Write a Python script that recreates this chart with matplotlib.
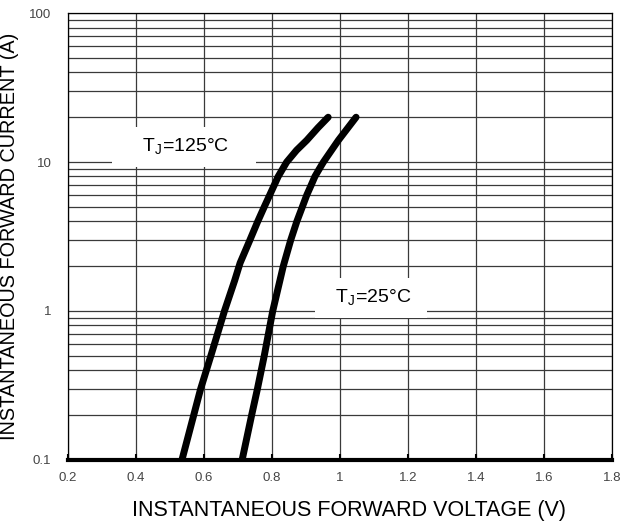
import matplotlib
matplotlib.use("Agg")
import matplotlib.pyplot as plt
from matplotlib.ticker import LogLocator, FixedLocator, NullFormatter

plt.rcParams['font.family'] = ['Liberation Sans', 'DejaVu Sans']

# forward voltage (V) vs forward current (A)
v_125 = [0.535, 0.59, 0.62, 0.66, 0.69, 0.706, 0.735, 0.758, 0.777, 0.793,
         0.818, 0.843, 0.872, 0.902, 0.935, 0.965]
i_125 = [0.1, 0.3, 0.5, 1, 1.6, 2.1, 3, 4, 5, 6, 8, 10, 12, 14, 17, 20]
v_25 = [0.712, 0.74, 0.757, 0.777, 0.802, 0.833, 0.855, 0.873, 0.889, 0.902,
        0.915, 0.926, 0.939, 0.951, 0.995, 1.047]
i_25 = [0.1, 0.2, 0.3, 0.5, 1, 2, 3, 4, 5, 6, 7, 8, 9, 10, 14, 20]

x_ticks = [0.2, 0.4, 0.6, 0.8, 1.0, 1.2, 1.4, 1.6, 1.8]
x_tick_labels = ['0.2', '0.4', '0.6', '0.8', '1', '1.2', '1.4', '1.6', '1.8']
y_ticks = [0.1, 1, 10, 100]
y_tick_labels = ['0.1', '1', '10', '100']

fig = plt.figure(figsize=(6.24, 5.25), dpi=100)
ax = fig.add_axes([0.109, 0.124, 0.872, 0.851])

ax.set_yscale('log')
ax.set_xlim(0.2, 1.8)
ax.set_ylim(0.1, 100)

grid_col = '#3a3a3a'
ax.xaxis.set_major_locator(FixedLocator(x_ticks))
ax.set_xticklabels(x_tick_labels)
ax.yaxis.set_major_locator(FixedLocator(y_ticks))
ax.set_yticklabels(y_tick_labels)
ax.yaxis.set_minor_locator(LogLocator(base=10, subs=range(2, 10)))
ax.yaxis.set_minor_formatter(NullFormatter())

ax.grid(True, which='major', axis='x', color=grid_col, lw=0.9)
ax.grid(True, which='both', axis='y', color=grid_col, lw=0.9)

ax.plot(v_125, i_125, color='black', lw=5, solid_capstyle='round',
        solid_joinstyle='round', zorder=4)
ax.plot(v_25, i_25, color='black', lw=5, solid_capstyle='round',
        solid_joinstyle='round', zorder=4)

ax.text(0.541, 12.6, r'    T$_\mathregular{J}$=125°C    ', fontsize=14, ha='center', va='center',
        bbox=dict(boxstyle='square,pad=0.5', fc='white', ec='none'), zorder=3)
ax.text(1.091, 1.22, r'  T$_\mathregular{J}$=25°C  ', fontsize=14, ha='center', va='center',
        bbox=dict(boxstyle='square,pad=0.5', fc='white', ec='none'), zorder=3)

for s in ['top', 'right', 'left']:
    ax.spines[s].set_linewidth(0.9)
ax.spines['bottom'].set_linewidth(3)
ax.spines['bottom'].set_zorder(5)

ax.tick_params(axis='x', which='major', direction='in', length=4, width=1.5,
               labelsize=9.5, labelcolor='#444444', pad=9)
ax.tick_params(axis='y', which='both', length=0, labelsize=9.5, labelcolor='#444444', pad=12)

ax.set_xlabel('INSTANTANEOUS FORWARD VOLTAGE (V)', fontsize=15.5)
ax.xaxis.set_label_coords(0.517, -0.09)
ax.set_ylabel('INSTANTANEOUS FORWARD CURRENT (A)', fontsize=14.3, labelpad=7)

fig.savefig('out.png', dpi=100)
